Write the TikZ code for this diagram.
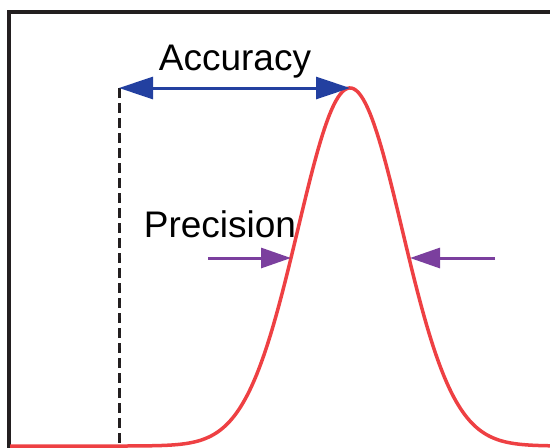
\documentclass[tikz,border=0pt]{standalone}
\usepackage{fontspec}
\setmainfont{Liberation Sans}
\usetikzlibrary{arrows.meta}
\definecolor{FrameGray}{HTML}{231F20}
\definecolor{AccBlue}{HTML}{2340A0}
\definecolor{PrecPurple}{HTML}{7B3F9E}
\definecolor{CurveRed}{HTML}{EE4043}

\begin{document}
\begin{tikzpicture}[x=1pt,y=-1pt,
  frame/.style={draw=FrameGray,line width=3.5pt},
  guide/.style={draw=FrameGray,line width=3pt,dash pattern=on 10pt off 5pt},
  curve/.style={draw=CurveRed,line width=3.5pt},
  accarr/.style={{Triangle[length=34pt,width=22pt]}-{Triangle[length=34pt,width=22pt]},draw=AccBlue,fill=AccBlue,line width=3pt},
  precarr/.style={-{Triangle[length=30pt,width=20pt]},draw=PrecPurple,fill=PrecPurple,line width=3pt},
  lbl/.style={font=\fontsize{37}{40}\selectfont,inner sep=0pt}
]
\useasboundingbox (0,0) rectangle (550,448);
% frame
\draw[frame] (9,448) -- (9,12) -- (551,12);
% peak and reference
\coordinate (peak) at (350,88);
\coordinate (ref) at (119,88);
\coordinate (refbase) at (119,448);
\draw[guide] (ref) -- (refbase);
\draw[curve] plot[domain=10:551,samples=240] (\x,{446-358*exp(-0.5*((\x-350)/52)^2)});
% accuracy
\draw[accarr] (ref) -- (peak);
\node[lbl] (acc) at (235,62) {Accuracy};
% precision
\coordinate (pl) at (208,258);
\coordinate (plend) at (291,258);
\coordinate (pr) at (495,258);
\coordinate (prend) at (410,258);
\draw[precarr] (pl) -- (plend);
\draw[precarr] (pr) -- (prend);
\node[lbl] (prec) at (220,224) {Precision};
\end{tikzpicture}
\end{document}
